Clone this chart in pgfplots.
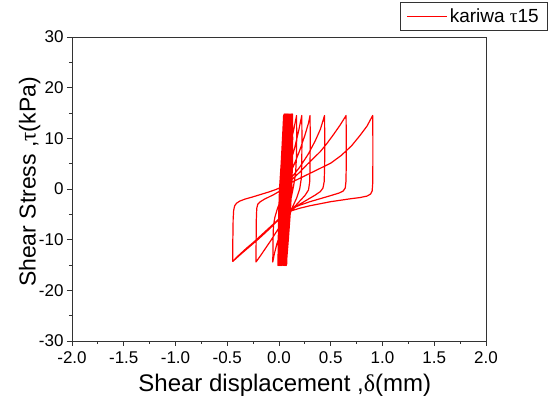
\documentclass[border=0pt]{standalone}
\usepackage{fontspec}
\setmainfont{Liberation Sans}
\newfontfamily\grk{Liberation Serif}
\usepackage{pgfplots}
\pgfplotsset{compat=1.18}
\begin{document}
\begin{tikzpicture}
\begin{axis}[
  scale only axis, width=414pt, height=304pt,
  xmin=-2, xmax=2, ymin=-30, ymax=30,
  xtick={-2,-1.5,-1,-0.5,0,0.5,1,1.5,2},
  xticklabels={-2.0,-1.5,-1.0,-0.5,0.0,0.5,1.0,1.5,2.0},
  ytick={-30,-20,-10,0,10,20,30},
  yticklabels={-30,-20,-10,0,10,20,30},
  minor x tick num=1, minor y tick num=1,
  tick align=outside, xtick pos=bottom, ytick pos=left,
  major tick length=5pt, minor tick length=3pt,
  axis line style={line width=0.8pt, black!80},
  every tick/.style={black!80, line width=0.8pt},
  tick label style={font=\fontsize{17}{20}\selectfont},
  xticklabel style={yshift=-2pt},
  xlabel={Shear displacement ,{\grk δ}(mm)},
  ylabel={Shear Stress ,{\grk τ}(kPa)},
  xlabel style={font=\fontsize{24}{28}\selectfont, at={(axis description cs:0.514,-0.1645)}, anchor=base},
  ylabel style={font=\fontsize{23}{27}\selectfont, at={(axis description cs:-0.088,0.523)}, anchor=base},
  legend style={at={(axis description cs:1.1498,1.1151)}, anchor=north east, draw=black!80, line width=0.6pt,
    font=\fontsize{19}{21}\selectfont, inner xsep=7pt, inner ysep=4.5pt, legend cell align=left},
  legend image code/.code={\draw[red, line width=0.8pt] (0pt,0pt) -- (40pt,0pt);},
]
\addplot[red, line width=1.2pt, line join=round] coordinates {
(0.075,-14.9)(0.078,-10)(0.082,-5)(0.09,0)(0.106,5)(0.119,10)(0.13,14.8)(0.132,10)(0.13,5)(0.122,0)(0.108,-5)(0.09,-10)
(0.07,-15.1)(0.073,-10)(0.077,-5)(0.085,0)(0.101,5)(0.114,10)(0.125,14.6)(0.127,10)(0.125,5)(0.117,0)(0.103,-5)(0.085,-10)
(0.065,-14.9)(0.068,-10)(0.072,-5)(0.08,0)(0.096,5)(0.109,10)(0.12,14.8)(0.122,10)(0.12,5)(0.112,0)(0.098,-5)(0.08,-10)
(0.06,-15.1)(0.063,-10)(0.067,-5)(0.075,0)(0.091,5)(0.104,10)(0.115,14.6)(0.117,10)(0.115,5)(0.107,0)(0.093,-5)(0.075,-10)
(0.055,-14.9)(0.058,-10)(0.062,-5)(0.07,0)(0.086,5)(0.099,10)(0.11,14.8)(0.112,10)(0.11,5)(0.102,0)(0.088,-5)(0.07,-10)
(0.05,-15.1)(0.053,-10)(0.057,-5)(0.065,0)(0.081,5)(0.094,10)(0.105,14.6)(0.107,10)(0.105,5)(0.097,0)(0.083,-5)(0.065,-10)
(0.045,-14.9)(0.048,-10)(0.052,-5)(0.06,0)(0.076,5)(0.089,10)(0.1,14.8)(0.102,10)(0.1,5)(0.092,0)(0.078,-5)(0.06,-10)
(0.04,-15.1)(0.043,-10)(0.047,-5)(0.055,0)(0.071,5)(0.084,10)(0.095,14.6)(0.097,10)(0.095,5)(0.087,0)(0.073,-5)(0.055,-10)
(0.035,-14.9)(0.038,-10)(0.042,-5)(0.05,0)(0.066,5)(0.079,10)(0.09,14.8)(0.092,10)(0.09,5)(0.082,0)(0.068,-5)(0.05,-10)
(0.03,-15.1)(0.033,-10)(0.037,-5)(0.045,0)(0.061,5)(0.074,10)(0.085,14.6)(0.087,10)(0.085,5)(0.077,0)(0.063,-5)(0.045,-10)
(0.025,-14.9)(0.028,-10)(0.032,-5)(0.04,0)(0.056,5)(0.069,10)(0.08,14.8)(0.082,10)(0.08,5)(0.072,0)(0.058,-5)(0.04,-10)
(0.02,-15.1)(0.023,-10)(0.027,-5)(0.035,0)(0.051,5)(0.064,10)(0.075,14.6)(0.077,10)(0.075,5)(0.067,0)(0.053,-5)(0.035,-10)
(0.015,-14.9)(0.018,-10)(0.022,-5)(0.03,0)(0.046,5)(0.059,10)(0.07,14.8)(0.072,10)(0.07,5)(0.062,0)(0.048,-5)(0.03,-10)
(0.01,-15.1)(0.013,-10)(0.017,-5)(0.025,0)(0.041,5)(0.054,10)(0.065,14.6)(0.067,10)(0.065,5)(0.057,0)(0.043,-5)(0.025,-10)
(0.005,-14.9)(0.008,-10)(0.012,-5)(0.02,0)(0.036,5)(0.049,10)(0.06,14.8)(0.062,10)(0.06,5)(0.052,0)(0.038,-5)(0.02,-10)
(0.0,-15.1)(0.003,-10)(0.007,-5)(0.015,0)(0.031,5)(0.044,10)(0.055,14.6)(0.057,10)(0.055,5)(0.047,0)(0.033,-5)(0.015,-10)
(-0.005,-14.9)(-0.002,-10)(0.002,-5)(0.01,0)(0.026,5)(0.039,10)(0.05,14.8)(0.052,10)(0.05,5)(0.042,0)(0.028,-5)(0.01,-10)
(-0.01,-15.1)(-0.007,-10)(-0.003,-5)(0.005,0)(0.021,5)(0.034,10)(0.045,14.6)(0.047,10)(0.045,5)(0.037,0)(0.023,-5)(0.005,-10)
(0.0,-14.6)(0.004,-10)(0.015,-5)(0.035,0)(0.06,4)(0.1,8)(0.14,11.5)(0.17,14.5)
(0.171,10)(0.168,6)(0.16,3)(0.14,0.5)(0.11,-2.5)(0.08,-6)(0.05,-9.5)(0.025,-12.5)(0.01,-14.5)
(0.013,-10)(0.02,-6)(0.035,-2)(0.06,1.5)(0.1,4.5)(0.15,8)(0.19,11.5)(0.22,14.5)
(0.222,10)(0.22,5)(0.215,2)(0.2,0)(0.17,-1.8)(0.13,-3.6)(0.09,-5.8)(0.05,-8.8)(0.02,-11.8)(0.0,-14.5)
(0.003,-10)(0.01,-6)(0.025,-2.5)(0.05,0.5)(0.1,2.8)(0.15,5.0)(0.2,7.6)(0.25,10.6)(0.285,13)(0.30,14.5)
(0.302,10)(0.30,5)(0.297,1.5)(0.285,-0.2)(0.25,-1.3)(0.2,-2.4)(0.15,-3.5)(0.1,-4.8)(0.06,-6.2)(0.02,-8.3)(-0.02,-10.8)(-0.045,-12.8)(-0.06,-14.4)
(-0.058,-11)(-0.056,-8.5)(-0.052,-7)(-0.04,-5.6)(-0.02,-4.2)(0.0,-3.0)(0.03,-1.5)(0.06,0)(0.1,1.8)(0.15,3.0)(0.2,4.3)(0.28,6.8)(0.35,9.5)(0.4,11.8)(0.44,14.5)
(0.442,10)(0.441,5)(0.437,1.5)(0.425,0.2)(0.4,-0.5)(0.35,-1.2)(0.3,-1.8)(0.25,-2.4)(0.2,-3.0)(0.15,-3.7)(0.1,-4.6)(0.06,-5.6)(0.02,-7.0)(-0.03,-8.6)(-0.08,-10.2)(-0.13,-11.7)(-0.18,-13.2)(-0.222,-14.4)
(-0.221,-10)(-0.219,-6)(-0.215,-3.8)(-0.205,-3.0)(-0.18,-2.5)(-0.14,-2.0)(-0.1,-1.6)(-0.05,-1.1)(0.0,-0.5)(0.05,0.4)(0.1,1.4)(0.2,3.3)(0.27,4.8)(0.33,6.0)(0.4,7.4)(0.46,8.9)(0.525,10.7)(0.59,12.6)(0.648,14.5)
(0.65,10)(0.65,5)(0.647,1.5)(0.64,0.2)(0.62,-0.4)(0.58,-0.8)(0.5,-1.3)(0.4,-1.9)(0.3,-2.5)(0.2,-3.2)(0.12,-3.9)(0.07,-4.6)(0.02,-5.6)(-0.05,-7.0)(-0.12,-8.4)(-0.2,-9.9)(-0.28,-11.3)(-0.36,-12.7)(-0.42,-13.8)(-0.447,-14.3)
(-0.446,-10)(-0.443,-6)(-0.438,-4.2)(-0.428,-3.3)(-0.41,-2.8)(-0.38,-2.4)(-0.33,-2.0)(-0.26,-1.6)(-0.18,-1.1)(-0.1,-0.6)(-0.03,-0.1)(0.05,0.6)(0.12,1.3)(0.2,2.1)(0.3,3.1)(0.4,4.1)(0.5,5.1)(0.6,6.6)(0.7,8.5)(0.78,10.5)(0.85,12.4)(0.905,14.5)
(0.907,10)(0.907,5)(0.905,1)(0.9,-0.4)(0.885,-1.0)(0.85,-1.4)(0.78,-1.7)(0.7,-1.9)(0.6,-2.2)(0.5,-2.5)(0.4,-2.9)(0.3,-3.3)(0.2,-3.8)(0.12,-4.3)(0.06,-4.9)(0.0,-5.9)(-0.08,-7.4)(-0.16,-8.9)(-0.24,-10.4)(-0.32,-11.8)(-0.4,-13.3)(-0.447,-14.3)
};
\addlegendentry{kariwa {\grk τ}15}
\end{axis}
\pgfresetboundingbox
\path (-72pt,-57pt) rectangle (477pt,341pt);
\end{tikzpicture}
\end{document}
